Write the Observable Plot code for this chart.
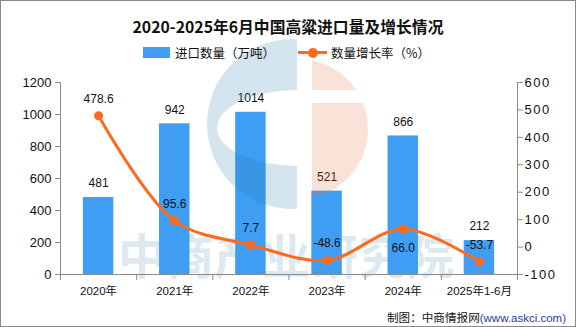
<!DOCTYPE html>
<html><head><meta charset="utf-8">
<script src="https://cdn.jsdelivr.net/npm/d3@7"></script>
<script src="https://cdn.jsdelivr.net/npm/@observablehq/plot@0.6"></script>
<style>
body{margin:0;background:#fff;}
#wrap{position:relative;width:576px;height:327px;overflow:hidden;background:#fff;font-family:"Liberation Sans","Noto Sans CJK SC",sans-serif;color:#111;}
#wrap > *{position:absolute;}
#bg,#fg{left:0;top:0;pointer-events:none;}
#chart{left:0;top:60px;}
#title{left:0;width:576px;top:17px;text-align:center;font:700 15.8px/20px "Noto Sans CJK SC",sans-serif;color:#111;}
.lg{font:12.5px/14px "Noto Sans CJK SC",sans-serif;top:46px;color:#111;}
#footer{right:10px;top:310px;font:11.6px/14px "Noto Sans CJK SC",sans-serif;color:#111;}
#footer span{font-family:"Liberation Sans",sans-serif;font-size:11.5px;color:#1f3d99;}
#border{left:0;top:0;width:574px;height:325px;border:1px solid #8a8a8a;pointer-events:none;}
</style></head><body>
<div id="wrap">
  <svg id="bg" width="576" height="327">
    <text x="118" y="274" font-family="Noto Sans CJK SC" font-weight="700" font-size="48" fill="rgb(35,120,170)" fill-opacity="0.18">中商产业研究院</text>
  </svg>
  <div id="chart"></div>
  <svg id="fg" width="576" height="327">
    <defs>
      <clipPath id="cl"><rect x="0" y="0" width="297" height="327"/></clipPath>
      <clipPath id="cr"><rect x="312" y="0" width="100" height="90"/><rect x="312" y="103" width="100" height="200"/></clipPath>
    </defs>
    <g clip-path="url(#cl)">
      <path fill-rule="evenodd" fill="rgb(35,120,170)" fill-opacity="0.2"
        d="M207,124a85,85 0 1,0 170,0a85,85 0 1,0 -170,0Z M217,128a80,38 0 1,0 160,0a80,38 0 1,0 -160,0Z"/>
    </g>
    <g clip-path="url(#cr)">
      <circle cx="298" cy="129" r="70" fill="rgb(230,110,60)" fill-opacity="0.2"/>
    </g>
  </svg>
  <div id="title">2020-2025年6月中国高粱进口量及增长情况</div>
  <div style="left:143px;top:47px;width:27px;height:11px;background:#3f9ef4;"></div>
  <div class="lg" style="left:175px;">进口数量（万吨）</div>
  <div style="left:298px;top:51px;width:29px;height:3px;background:#ff6a1e;"></div>
  <div style="left:307.5px;top:47.5px;width:10px;height:10px;border-radius:50%;background:#ff6a1e;"></div>
  <div class="lg" style="left:331px;">数量增长率（%）</div>
  <div id="footer">制图：中商情报网<span>(www.askci.com)</span></div>
  <div id="border"></div>
</div>
<script>
const categories = ["2020年","2021年","2022年","2023年","2024年","2025年1-6月"];
const importVolume = [481, 942, 1014, 521, 866, 212];
const growthRate = [478.6, 95.6, 7.7, -48.6, 66.0, -53.7];
const leftTicks = [0, 200, 400, 600, 800, 1000, 1200];
const rightTicks = [-100, 0, 100, 200, 300, 400, 500, 600];

const leftMax = 1200, rMin = -100, rMax = 600;
const toLeft = r => (r - rMin) * leftMax / (rMax - rMin);
const fromLeft = v => v * (rMax - rMin) / leftMax + rMin;

const rows = categories.map((c, i) => ({
  i, c, v: importVolume[i], g: growthRate[i], gy: toLeft(growthRate[i]),
  below: i > 0 && i < growthRate.length - 1 && growthRate[i] > growthRate[i-1] && growthRate[i] > growthRate[i+1]
}));

const BAR = "#3f9ef4", LINE = "#ff6a1e", AX = "#8a8a8a";
const chart = Plot.plot({
  width: 576, height: 240,
  marginLeft: 60, marginRight: 59, marginTop: 22, marginBottom: 26,
  style: {background: "transparent", fontFamily: '"Liberation Sans","Noto Sans CJK SC",sans-serif', fontSize: "12px", color: "#111"},
  x: {domain: [0, categories.length], label: null},
  y: {domain: [0, leftMax], label: null},
  marks: [
    Plot.rectY(rows, {x1: d => d.i + 0.3, x2: d => d.i + 0.7, y1: 0, y2: "v", fill: BAR}),
    Plot.ruleX([0, categories.length], {stroke: AX}),
    Plot.ruleY([0], {stroke: AX}),
    Plot.axisX({ticks: d3.range(categories.length + 1), tickFormat: () => "", tickSize: 6, stroke: AX, label: null}),
    Plot.axisX({ticks: d3.range(categories.length).map(i => i + 0.5), tickFormat: t => categories[Math.floor(t)], tickSize: 0, tickPadding: 12, fontSize: 11.5, label: null}),
    Plot.axisY({anchor: "left", ticks: leftTicks, tickFormat: t => String(t), tickSize: 5, tickPadding: 4, stroke: AX, fontSize: 13, label: null}),
    Plot.axisY({anchor: "right", ticks: rightTicks.map(toLeft), tickFormat: t => String(Math.round(fromLeft(t))), tickSize: 5, tickPadding: 2, stroke: AX, fontSize: 13, label: null}),
    Plot.text(rows, {x: d => d.i + 0.5, y: "v", text: d => String(d.v), dy: -14, fontSize: 12}),
    Plot.line(rows, {x: d => d.i + 0.5, y: "gy", stroke: LINE, strokeWidth: 3, curve: "catmull-rom"}),
    Plot.dot(rows, {x: d => d.i + 0.5, y: "gy", r: 4.5, fill: LINE, stroke: "none"}),
    Plot.text(rows, {x: d => d.i + 0.5, y: "gy", text: d => d.g.toFixed(1), fontSize: 12, filter: d => !d.below, dy: -17}),
    Plot.text(rows, {x: d => d.i + 0.5, y: "gy", text: d => d.g.toFixed(1), fontSize: 12, filter: d => d.below, dy: 19})
  ]
});
document.getElementById("chart").appendChild(chart);
const tl = chart.querySelectorAll('g[aria-label="y-axis tick label"]');
if (tl.length > 1) tl[tl.length - 1].style.letterSpacing = "1.5px";
</script>
</body></html>
